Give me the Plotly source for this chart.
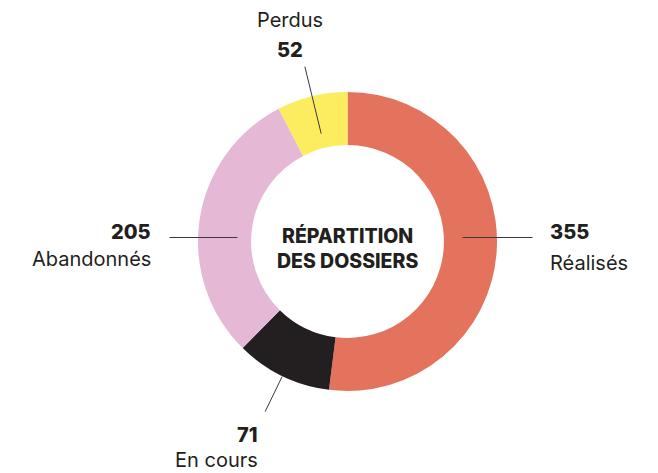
import math
import plotly.graph_objects as go

labels = ["Réalisés", "En cours", "Abandonnés", "Perdus"]
values = [355, 71, 205, 52]
colors = ["#E4735E", "#231F20", "#E5B8D6", "#FCEC60"]
center_title = "RÉPARTITION<br>DES DOSSIERS"

W, H = 658, 473
CX, CY, R = 347.5, 241.5, 149.5
FONT = "Inter, 'Noto Sans', sans-serif"
TXT = "#231F20"

def px(x):
    return x / W

def py(y):
    return 1 - y / H

fig = go.Figure(go.Pie(
    labels=labels, values=values, sort=False, direction="clockwise", rotation=0,
    hole=0.645, marker=dict(colors=colors, line=dict(width=0)),
    textinfo="none", hoverinfo="label+value", showlegend=False,
    domain=dict(x=[px(CX - R), px(CX + R)], y=[py(CY + R), py(CY - R)]),
))

total = sum(values)
mids = []
acc = 0
for v in values:
    mids.append((acc + v / 2) / total * 2 * math.pi)
    acc += v

def polar(a, r):
    return CX + r * math.sin(a), CY - r * math.cos(a)

shapes = []
def seg(p0, p1):
    shapes.append(dict(type="line", xref="paper", yref="paper",
                       x0=px(p0[0]), y0=py(p0[1]), x1=px(p1[0]), y1=py(p1[1]),
                       line=dict(color="#3a3a3a", width=1)))

# Leader lines
seg((CX + 115, 237.5), (CX + 185, 237.5))          # Réalisés
seg(polar(mids[1], 150), polar(mids[1], 189))      # En cours
seg((CX - 110, 237.5), (CX - 178, 237.5))          # Abandonnés
seg(polar(mids[3], 111), polar(mids[3], 180))      # Perdus

ann = []
def text(x, y, s, bold=False, size=20, xanchor="center"):
    ann.append(dict(x=px(x), y=py(y), xref="paper", yref="paper", text=s,
                    showarrow=False, xanchor=xanchor, yanchor="middle",
                    font=dict(family=FONT, size=size, color=TXT,
                              weight=800 if bold else "normal")))

# Réalisés
text(548, 232, f"{values[0]}", bold=True, xanchor="left")
text(548, 263, labels[0], xanchor="left")
# En cours
text(260, 435, f"{values[1]}", bold=True, xanchor="right")
text(260, 460, labels[1], xanchor="right")
# Abandonnés
text(153, 232, f"{values[2]}", bold=True, xanchor="right")
text(153, 259, labels[2], xanchor="right")
# Perdus
text(289.5, 20, labels[3], xanchor="center")
text(289.5, 50, f"{values[3]}", bold=True, xanchor="center")
# Center
ann.append(dict(x=px(CX), y=py(248), xref="paper", yref="paper", text=center_title,
                showarrow=False, xanchor="center", yanchor="middle", align="center",
                font=dict(family=FONT, size=19.5, color=TXT, weight=800)))

fig.update_layout(width=W, height=H, margin=dict(l=0, r=0, t=0, b=0),
                  paper_bgcolor="white", plot_bgcolor="white",
                  shapes=shapes, annotations=ann)
fig.write_html("out.html", post_script="document.body.style.margin='0';",
               config={"displayModeBar": False})
